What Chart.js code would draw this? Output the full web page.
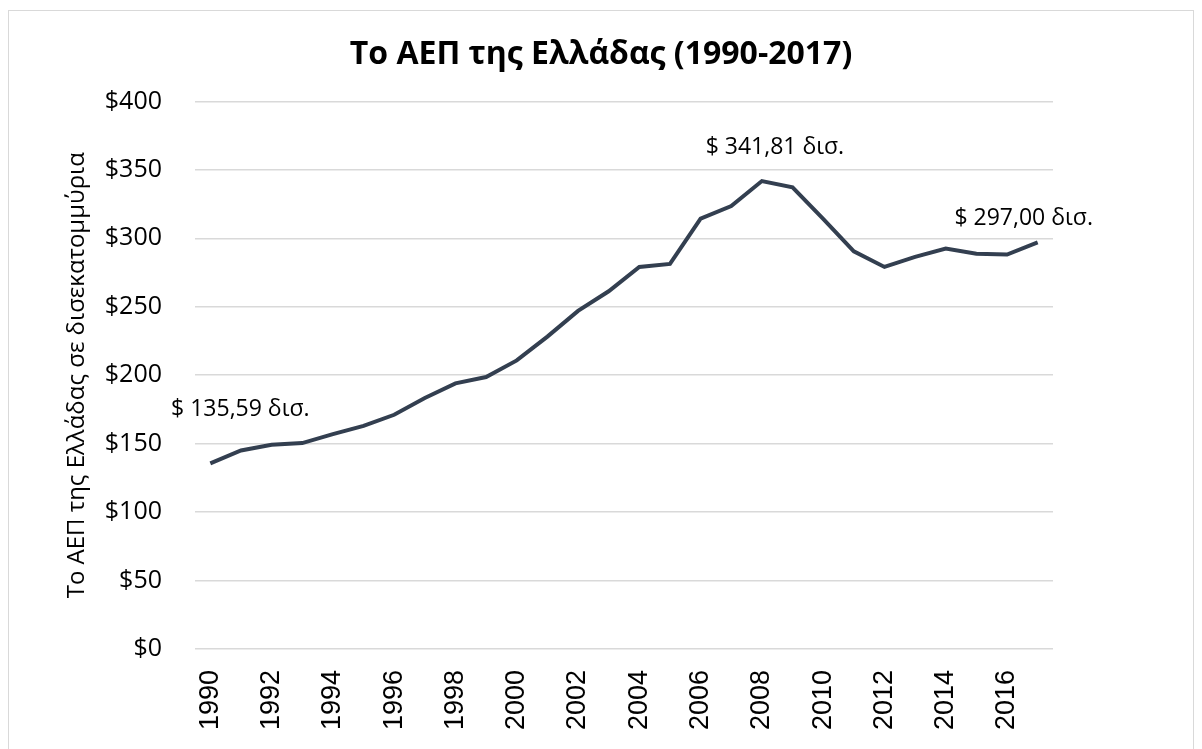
<!DOCTYPE html>
<html>
<head>
<meta charset="utf-8">
<script src="https://cdn.jsdelivr.net/npm/chart.js@4"></script>
<style>
  html, body { margin: 0; padding: 0; background: #fff; }
  #wrap { position: relative; width: 1202px; height: 749px; }
  #frame { position: absolute; left: 8px; top: 10px; width: 1186px; height: 745px; border: 1px solid #d9d9d9; box-sizing: border-box; pointer-events: none; }
</style>
</head>
<body>
<div id="wrap">
  <canvas id="gdpChart" width="1202" height="749"></canvas>
  <div id="frame"></div>
</div>
<script>
// Χρονιές (κατηγορίες)
const years = ['1990','1991','1992','1993','1994','1995','1996','1997','1998','1999',
               '2000','2001','2002','2003','2004','2005','2006','2007','2008','2009',
               '2010','2011','2012','2013','2014','2015','2016','2017'];

// ΑΕΠ σε δισ. δολάρια (εκτίμηση από το γράφημα)
const gdpValues = [135.59, 145.0, 149.2, 150.4, 157.0, 163.0, 171.1, 183.3, 194.0, 198.7,
                   210.8, 228.2, 247.0, 261.3, 279.1, 281.3, 314.4, 323.5, 341.81, 337.3,
                   314.2, 290.5, 279.1, 286.4, 292.5, 288.8, 288.1, 297.00];

const yTicks = [0, 50, 100, 150, 200, 250, 300, 350, 400];

// Ετικέτες δεδομένων που εμφανίζονται στο γράφημα
const labelIndexes = [0, 18, 27];
const labelOffsets = { 0: [30, -54], 18: [13, -34], 27: [-14, -24] };

function formatLabel(v) {
    return '$ ' + v.toFixed(2).replace('.', ',') + ' δισ.';
}

const dataLabelPlugin = {
    id: 'dataLabels',
    afterDatasetsDraw(chart) {
        const ctx = chart.ctx;
        const meta = chart.getDatasetMeta(0);
        ctx.save();
        ctx.font = '23px "Open Sans"';
        ctx.fillStyle = '#000';
        ctx.textAlign = 'center';
        ctx.textBaseline = 'middle';
        labelIndexes.forEach(i => {
            const pt = meta.data[i];
            const off = labelOffsets[i];
            ctx.fillText(formatLabel(gdpValues[i]), pt.x + off[0], pt.y + off[1]);
        });
        ctx.restore();
    }
};

const ctx = document.getElementById('gdpChart').getContext('2d');

new Chart(ctx, {
    type: 'line',
    data: {
        labels: years,
        datasets: [{
            data: gdpValues,
            borderColor: '#333f50',
            borderWidth: 4,
            pointRadius: 0,
            tension: 0,
            fill: false
        }]
    },
    options: {
        responsive: false,
        animation: false,
        layout: { padding: { left: 8, right: 8, top: 18, bottom: 0 } },
        plugins: {
            legend: { display: false },
            tooltip: { enabled: false },
            title: {
                display: true,
                text: 'Το ΑΕΠ της Ελλάδας (1990-2017)',
                color: '#000',
                font: { family: 'Open Sans', size: 32, weight: 'bold' },
                padding: { top: 18, bottom: 27 }
            }
        },
        scales: {
            x: {
                offset: true,
                grid: { display: false, drawTicks: false },
                border: { display: false },
                afterFit: axis => { axis.height = 100; },
                ticks: {
                    autoSkip: false,
                    maxRotation: 90,
                    minRotation: 90,
                    padding: 21,
                    color: '#000',
                    font: { family: 'Liberation Sans', size: 27 },
                    callback: function (value, index) {
                        return index % 2 === 0 ? years[index] : '';
                    }
                }
            },
            y: {
                min: 0,
                max: 400,
                afterBuildTicks: axis => { axis.ticks = yTicks.map(v => ({ value: v })); },
                afterFit: axis => { axis.width = 187; },
                grid: { color: '#d9d9d9', lineWidth: 1.5, drawTicks: false },
                border: { display: false },
                ticks: {
                    padding: 33,
                    color: '#000',
                    font: { family: 'Open Sans', size: 25 },
                    callback: v => '$' + v
                },
                title: {
                    display: true,
                    text: 'Το ΑΕΠ της Ελλάδας σε δισεκατομμύρια',
                    color: '#000',
                    font: { family: 'Open Sans', size: 24 },
                    padding: { top: 55, bottom: 0 }
                }
            },
            // κενός άξονας για το δεξί περιθώριο
            yRight: {
                position: 'right',
                display: true,
                grid: { display: false, drawTicks: false },
                border: { display: false },
                ticks: { display: false },
                afterFit: axis => { axis.width = 141; }
            }
        }
    },
    plugins: [dataLabelPlugin]
});
</script>
</body>
</html>
